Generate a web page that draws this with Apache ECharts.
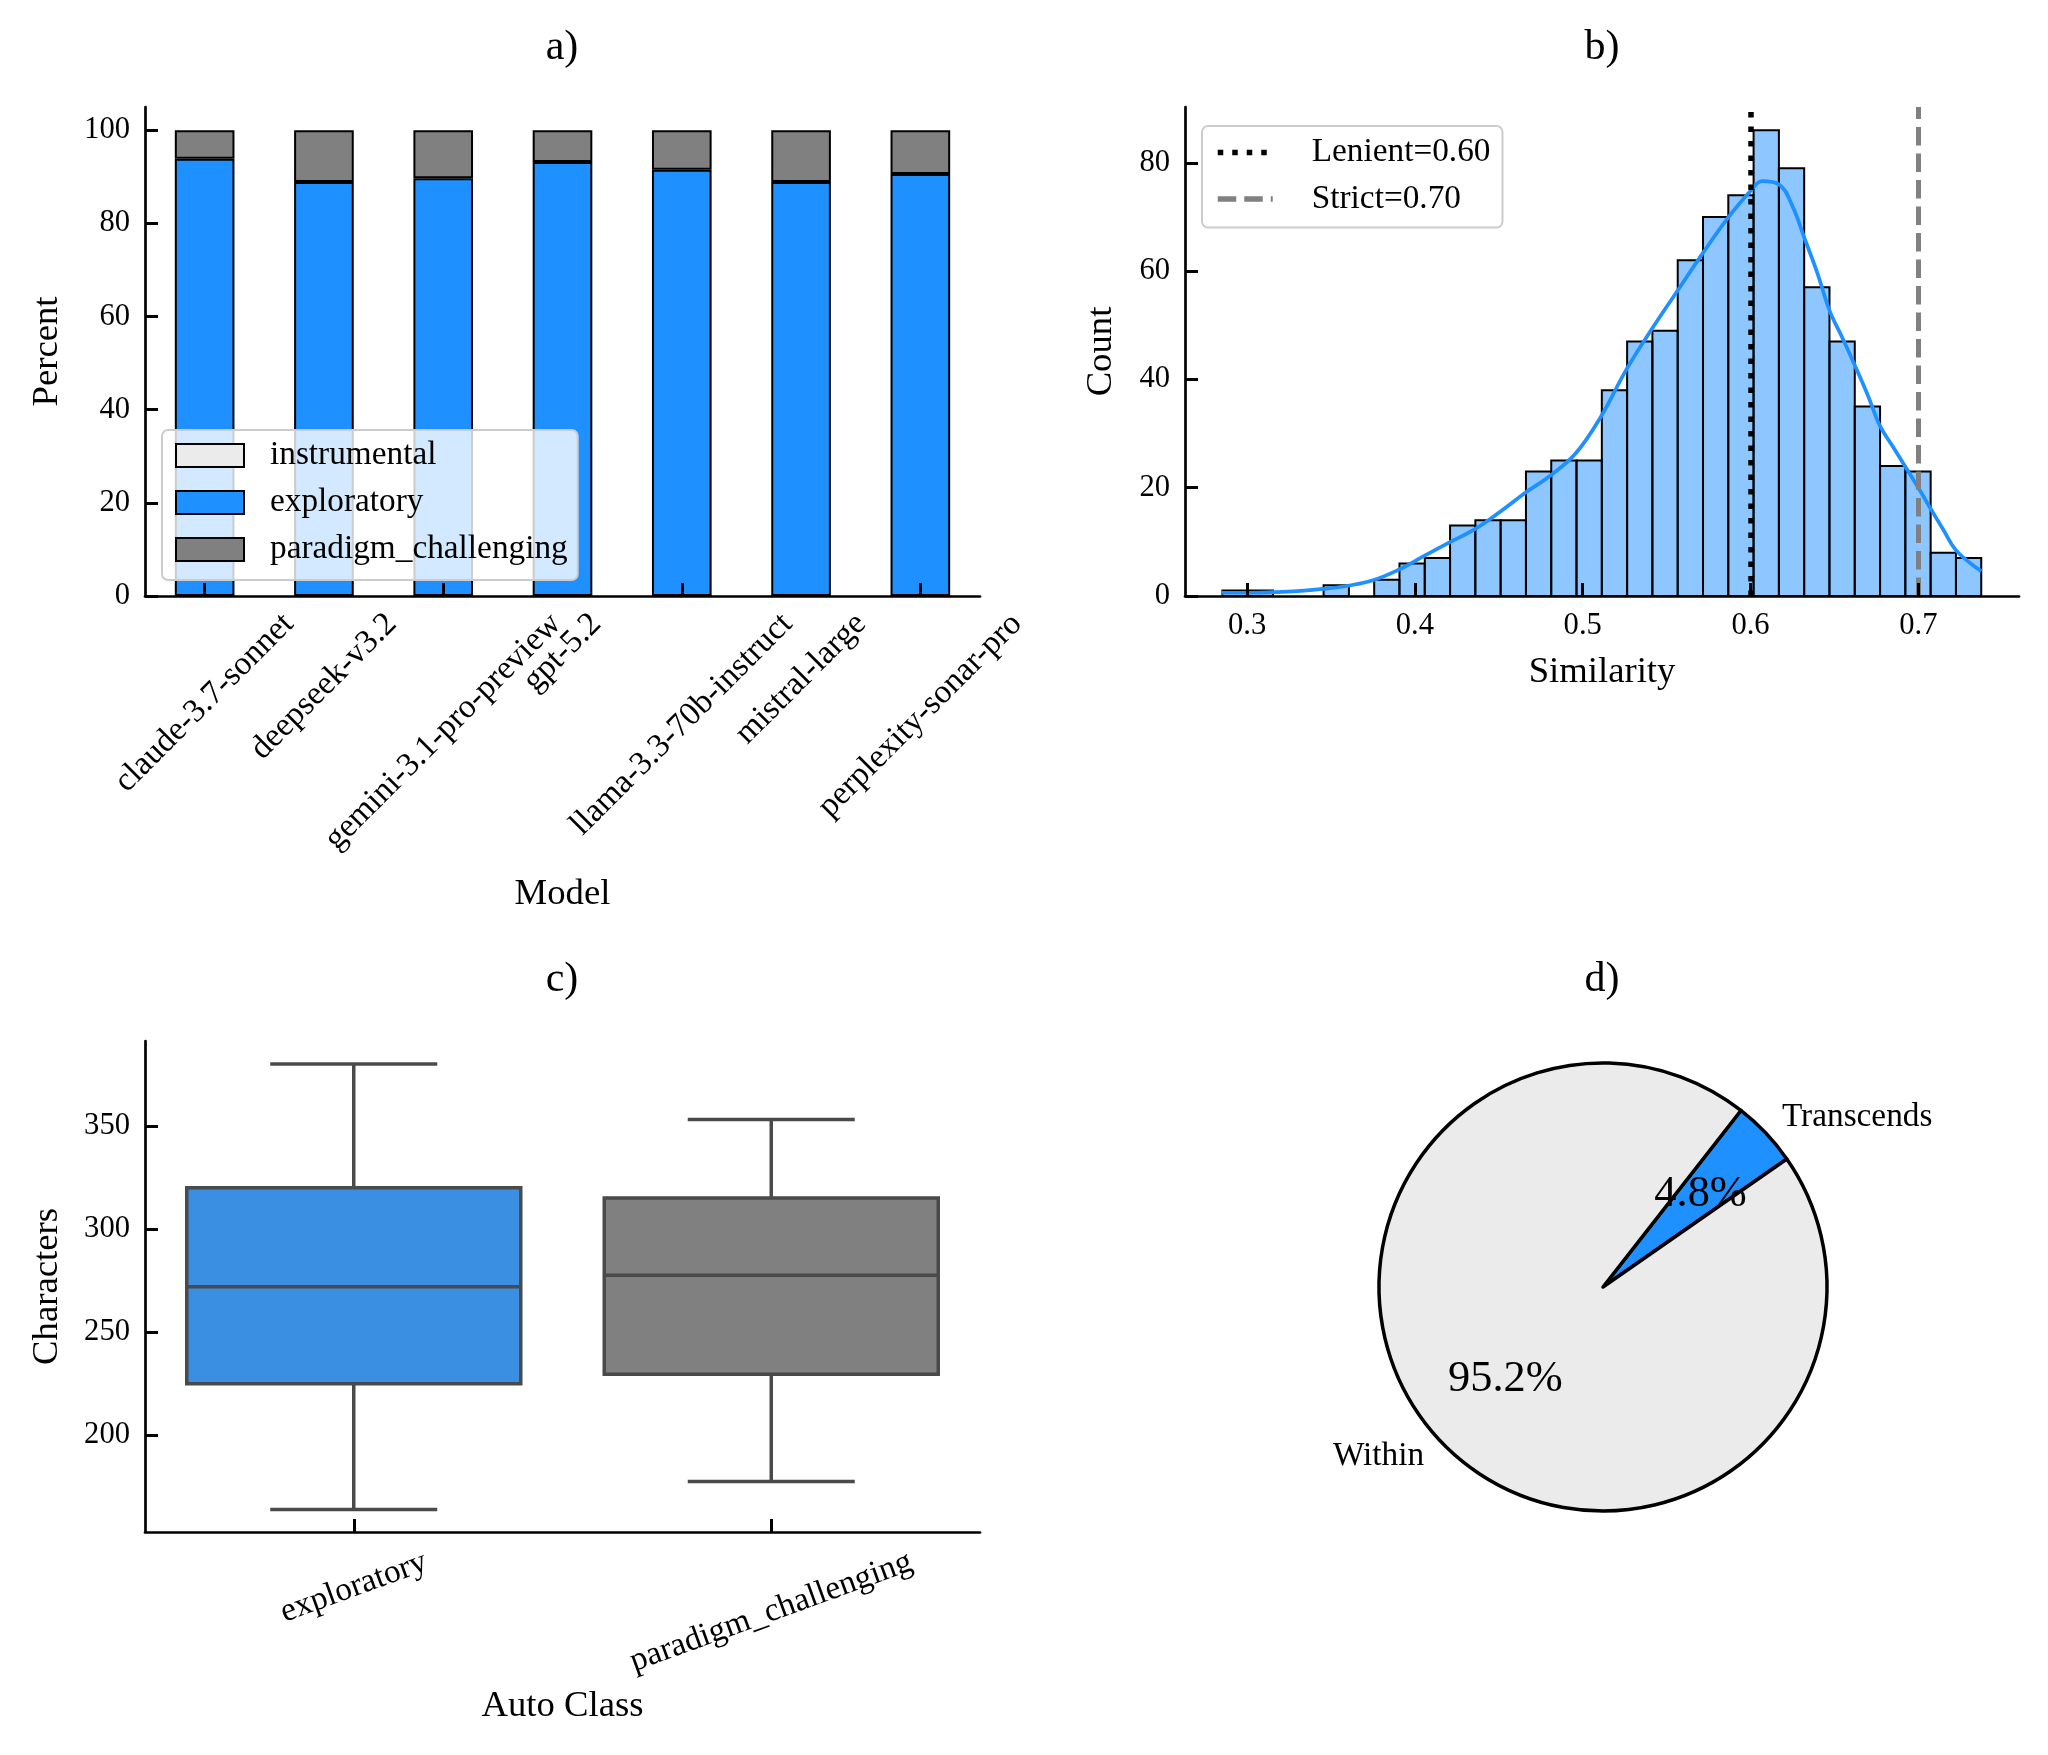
<!DOCTYPE html>
<html>
<head>
<meta charset="utf-8">
<script src="https://cdn.jsdelivr.net/npm/echarts@6/dist/echarts.min.js"></script>
<style>
html,body{margin:0;padding:0;background:#fff;}
#chart{width:2048px;height:1755px;}
</style>
</head>
<body>
<div id="chart"></div>
<script>
// ---------------- DATA ----------------
// a) composition by model (percent)
const models = ['claude-3.7-sonnet','deepseek-v3.2','gemini-3.1-pro-preview','gpt-5.2','llama-3.3-70b-instruct','mistral-large','perplexity-sonar-pro'];
const instrumentalPct = [0, 0, 0, 0, 0, 0, 0];
const exploratoryPct = [93.9, 88.9, 89.7, 93.2, 91.5, 88.9, 90.6];
const paradigmPct = [6.1, 11.1, 10.3, 6.8, 8.5, 11.1, 9.4];
const percentTicks = [0, 20, 40, 60, 80, 100];

// b) similarity histogram (30 bins) + KDE
const histMin = 0.2853;
const histMax = 0.7375;
const histCounts = [1,1,0,0,2,0,3,6,7,13,14,14,23,25,25,38,47,49,62,70,74,86,79,57,47,35,24,23,8,7];
const kdeX = [0.285,0.300,0.315,0.330,0.345,0.360,0.375,0.390,0.405,0.420,0.436,0.451,0.466,0.481,0.496,0.511,0.526,0.541,0.557,0.572,0.587,0.600,0.607,0.617,0.625,0.632,0.640,0.647,0.655,0.662,0.670,0.677,0.685,0.692,0.700,0.707,0.715,0.722,0.730,0.7375];
const kdeY = [0.6,0.6,0.7,0.9,1.3,1.9,2.9,4.8,7.3,9.8,12.4,15.6,19.1,22.3,26.4,33.2,41.8,49.2,56.6,63.5,70.0,74.8,76.6,76.0,72.0,66.2,59.5,52.8,47.5,42.7,37.0,31.5,27.5,24.0,20.0,16.3,12.2,8.6,6.3,4.6];
const countTicks = [0, 20, 40, 60, 80];
const similarityTicks = [0.3, 0.4, 0.5, 0.6, 0.7];
const thresholdNames = ['Lenient=0.60', 'Strict=0.70'];
const thresholdValues = [0.60, 0.70];

// c) characters by auto class: [low whisker, Q1, median, Q3, high whisker]
const autoClasses = ['exploratory', 'paradigm_challenging'];
const boxStats = [
  [164, 225, 272, 320, 380],
  [177.6, 229.6, 277.6, 315, 353]
];
const characterTicks = [200, 250, 300, 350];

// d) pie
const pieNames = ['Transcends', 'Within'];
const pieValues = [40, 800];

// ---------------- STYLE ----------------
const FONT = "'Liberation Serif', 'Times New Roman', serif";
const TICK_FS = 30.6, ROT_FS = 33.3, NAME_FS = 36.7, LEG_FS = 33.3, TITLE_FS = 42, PCT_FS = 44.4;
const BLUE = '#1E90FF', GRAY = '#808080', LIGHT = '#EBEBEB';
const BOX_COLORS = ['#3A8FE3', '#808080'];
const BOX_LINE = '#4a4a4a';

const measureCtx = document.createElement('canvas').getContext('2d');
function textWidth(t, fs) { measureCtx.font = fs + "px 'Liberation Serif'"; return measureCtx.measureText(t).width; }

// rotated category labels, centred under their tick like matplotlib (ha=center, top aligned)
function rotatedLabelSeries(name, axisIdx, labels, deg, pad) {
  const th = deg * Math.PI / 180;
  return {
    name: name, type: 'custom', xAxisIndex: axisIdx, yAxisIndex: axisIdx, clip: false, silent: true, z: 10,
    data: labels.map(l => [l]), encode: { x: 0 },
    renderItem: function (params, api) {
      const text = labels[params.dataIndex];
      const p = api.coord([api.value(0), 0]);
      const w = textWidth(text, ROT_FS), h = ROT_FS * 1.1;
      const d = (w * Math.sin(th) + h * Math.cos(th)) / 2;
      const axisY = params.coordSys.y + params.coordSys.height;
      return { type: 'text', x: p[0], y: axisY + pad + d, rotation: th,
        style: { text: text, fontSize: ROT_FS, fontFamily: FONT, fill: '#000', align: 'center', verticalAlign: 'middle',
          textAlign: 'center', textVerticalAlign: 'middle' } };
    }
  };
}

const axisLine = { show: true, lineStyle: { color: '#000', width: 2.7 } };
const tickStyle = { color: '#000', width: 3 };
const nameStyle = { fontSize: NAME_FS, fontFamily: FONT, color: '#000', align: 'center', verticalAlign: 'middle' };
const labelBase = { fontSize: TICK_FS, fontFamily: FONT, color: '#000' };

const binW = (histMax - histMin) / histCounts.length;
const histData = histCounts.map((c, i) => [histMin + i * binW, histMin + (i + 1) * binW, c]);
const kdeData = kdeX.map((x, i) => [x, kdeY[i]]);

const option = {
  animation: false,
  backgroundColor: '#fff',
  textStyle: { fontFamily: FONT },
  graphic: [
    { type: 'text', x: 562, y: 48, style: { text: 'a)', fontSize: TITLE_FS, fontFamily: FONT, fill: '#000', align: 'center', verticalAlign: 'middle' } },
    { type: 'text', x: 1602, y: 48, style: { text: 'b)', fontSize: TITLE_FS, fontFamily: FONT, fill: '#000', align: 'center', verticalAlign: 'middle' } },
    { type: 'text', x: 562, y: 980, style: { text: 'c)', fontSize: TITLE_FS, fontFamily: FONT, fill: '#000', align: 'center', verticalAlign: 'middle' } },
    { type: 'text', x: 1602, y: 980, style: { text: 'd)', fontSize: TITLE_FS, fontFamily: FONT, fill: '#000', align: 'center', verticalAlign: 'middle' } }
  ],
  grid: [
    { left: 145, top: 107, width: 835, height: 489, containLabel: false, outerBoundsMode: 'none' },
    { left: 1185, top: 107, width: 834, height: 489, containLabel: false, outerBoundsMode: 'none' },
    { left: 145, top: 1041, width: 835, height: 491, containLabel: false, outerBoundsMode: 'none' }
  ],
  legend: [
    {
      data: ['instrumental', 'exploratory', 'paradigm_challenging'],
      orient: 'vertical', left: 162, top: 430,
      itemWidth: 68, itemHeight: 23, itemGap: 14, icon: 'rect',
      itemStyle: { borderColor: '#000', borderWidth: 2 },
      textStyle: { fontSize: LEG_FS, fontFamily: FONT, color: '#000', padding: [0, 0, 0, 21] },
      backgroundColor: 'rgba(255,255,255,0.8)', borderColor: '#cccccc', borderWidth: 2, borderRadius: 6,
      padding: [9, 10, 14, 13], selectedMode: false, z: 8
    },
    {
      data: thresholdNames,
      orient: 'vertical', left: 1202, top: 126,
      itemWidth: 55, itemHeight: 14, itemGap: 13.6,
      itemStyle: { color: 'rgba(0,0,0,0)', borderWidth: 0, opacity: 0 },
      lineStyle: { width: 5.5 },
      textStyle: { fontSize: LEG_FS, fontFamily: FONT, color: '#000', padding: [0, 0, 0, 34] },
      backgroundColor: 'rgba(255,255,255,0.8)', borderColor: '#cccccc', borderWidth: 2, borderRadius: 6,
      padding: [10, 12, 12, 13], selectedMode: false, z: 8
    }
  ],
  xAxis: [
    {
      gridIndex: 0, type: 'category', z: 10, data: models,
      axisLine: axisLine,
      axisTick: { show: true, inside: true, length: 13, alignWithLabel: true, lineStyle: tickStyle },
      axisLabel: { show: false },
      splitLine: { show: false },
      name: 'Model', nameLocation: 'middle', nameGap: 298, nameMoveOverlap: false, nameTextStyle: nameStyle
    },
    {
      gridIndex: 1, type: 'value', min: 0.263, max: 0.760, z: 10,
      axisLine: axisLine,
      axisTick: { show: true, inside: true, length: 13, lineStyle: tickStyle, customValues: similarityTicks },
      axisLabel: Object.assign({ margin: 14, customValues: similarityTicks }, labelBase),
      splitLine: { show: false },
      name: 'Similarity', nameLocation: 'middle', nameGap: 76, nameMoveOverlap: false, nameTextStyle: nameStyle
    },
    {
      gridIndex: 2, type: 'category', z: 10, data: autoClasses,
      axisLine: axisLine,
      axisTick: { show: true, inside: true, length: 13, alignWithLabel: true, lineStyle: tickStyle },
      axisLabel: { show: false },
      splitLine: { show: false },
      name: 'Auto Class', nameLocation: 'middle', nameGap: 174, nameMoveOverlap: false, nameTextStyle: nameStyle
    }
  ],
  yAxis: [
    {
      gridIndex: 0, type: 'value', min: 0, max: 105, z: 10,
      axisLine: axisLine,
      axisTick: { show: true, inside: true, length: 13, lineStyle: tickStyle, customValues: percentTicks },
      axisLabel: Object.assign({ margin: 15, customValues: percentTicks }, labelBase),
      splitLine: { show: false },
      name: 'Percent', nameLocation: 'middle', nameRotate: 90, nameGap: 98, nameMoveOverlap: false, nameTextStyle: nameStyle
    },
    {
      gridIndex: 1, type: 'value', min: 0, max: 90.3, z: 10,
      axisLine: axisLine,
      axisTick: { show: true, inside: true, length: 13, lineStyle: tickStyle, customValues: countTicks },
      axisLabel: Object.assign({ margin: 15, customValues: countTicks }, labelBase),
      splitLine: { show: false },
      name: 'Count', nameLocation: 'middle', nameRotate: 90, nameGap: 84, nameMoveOverlap: false, nameTextStyle: nameStyle
    },
    {
      gridIndex: 2, type: 'value', min: 153.1, max: 391.1, z: 10,
      axisLine: axisLine,
      axisTick: { show: true, inside: true, length: 13, lineStyle: tickStyle, customValues: characterTicks },
      axisLabel: Object.assign({ margin: 15, customValues: characterTicks }, labelBase),
      splitLine: { show: false },
      name: 'Characters', nameLocation: 'middle', nameRotate: 90, nameGap: 98, nameMoveOverlap: false, nameTextStyle: nameStyle
    }
  ],
  series: [
    // a) stacked bars
    { name: 'instrumental', type: 'bar', xAxisIndex: 0, yAxisIndex: 0, stack: 'a', barWidth: '50%', data: instrumentalPct,
      itemStyle: { color: LIGHT, borderColor: '#000', borderWidth: 2 }, silent: true },
    { name: 'exploratory', type: 'bar', xAxisIndex: 0, yAxisIndex: 0, stack: 'a', barWidth: '50%', data: exploratoryPct,
      itemStyle: { color: BLUE, borderColor: '#000', borderWidth: 2 }, silent: true },
    { name: 'paradigm_challenging', type: 'bar', xAxisIndex: 0, yAxisIndex: 0, stack: 'a', barWidth: '50%', data: paradigmPct,
      itemStyle: { color: GRAY, borderColor: '#000', borderWidth: 2 }, silent: true },
    rotatedLabelSeries('modelLabels', 0, models, 45, 10),

    // b) histogram
    { name: 'hist', type: 'custom', xAxisIndex: 1, yAxisIndex: 1, data: histData, encode: { x: [0, 1], y: 2 }, silent: true, z: 2,
      renderItem: function (params, api) {
        const c = api.value(2);
        if (!c) return null;
        const p0 = api.coord([api.value(0), c]);
        const p1 = api.coord([api.value(1), 0]);
        return { type: 'rect', shape: { x: p0[0], y: p0[1], width: p1[0] - p0[0], height: p1[1] - p0[1] },
          style: { fill: 'rgba(30,144,255,0.5)', stroke: '#000', lineWidth: 2 } };
      } },
    { name: 'kde', type: 'line', xAxisIndex: 1, yAxisIndex: 1, data: kdeData, smooth: 0.4, symbol: 'none', silent: true, z: 4,
      lineStyle: { color: BLUE, width: 3.7 } },
    { name: thresholdNames[0], type: 'line', xAxisIndex: 1, yAxisIndex: 1, data: [], symbol: 'none', z: 5,
      itemStyle: { color: '#000' }, lineStyle: { color: '#000', width: 5.5, type: [5.5, 9] },
      markLine: { silent: true, symbol: ['none', 'none'], label: { show: false }, animation: false,
        lineStyle: { color: '#000', width: 5.5, type: [5.5, 9] }, data: [{ xAxis: thresholdValues[0] }] } },
    { name: thresholdNames[1], type: 'line', xAxisIndex: 1, yAxisIndex: 1, data: [], symbol: 'none', z: 5,
      itemStyle: { color: GRAY }, lineStyle: { color: GRAY, width: 5, type: [18.5, 8] },
      markLine: { silent: true, symbol: ['none', 'none'], label: { show: false }, animation: false,
        lineStyle: { color: GRAY, width: 5, type: [18.5, 8] }, data: [{ xAxis: thresholdValues[1] }] } },

    // c) box plots
    { name: 'box', type: 'custom', xAxisIndex: 2, yAxisIndex: 2, silent: true, z: 2,
      data: boxStats.map((s, i) => [i].concat(s)), encode: { x: 0, y: [1, 2, 3, 4, 5] },
      renderItem: function (params, api) {
        const idx = api.value(0);
        const band = api.size([1, 0])[0];
        const bw = band * 0.8, cw = band * 0.4;
        const pLow = api.coord([idx, api.value(1)]);
        const pQ1 = api.coord([idx, api.value(2)]);
        const pMed = api.coord([idx, api.value(3)]);
        const pQ3 = api.coord([idx, api.value(4)]);
        const pHigh = api.coord([idx, api.value(5)]);
        const cx = pMed[0];
        const ls = { stroke: BOX_LINE, lineWidth: 3.5 };
        return { type: 'group', children: [
          { type: 'line', shape: { x1: cx, y1: pQ1[1], x2: cx, y2: pLow[1] }, style: ls },
          { type: 'line', shape: { x1: cx, y1: pQ3[1], x2: cx, y2: pHigh[1] }, style: ls },
          { type: 'line', shape: { x1: cx - cw / 2, y1: pLow[1], x2: cx + cw / 2, y2: pLow[1] }, style: ls },
          { type: 'line', shape: { x1: cx - cw / 2, y1: pHigh[1], x2: cx + cw / 2, y2: pHigh[1] }, style: ls },
          { type: 'rect', shape: { x: cx - bw / 2, y: pQ3[1], width: bw, height: pQ1[1] - pQ3[1] },
            style: { fill: BOX_COLORS[params.dataIndex], stroke: BOX_LINE, lineWidth: 3.5 } },
          { type: 'line', shape: { x1: cx - bw / 2, y1: pMed[1], x2: cx + bw / 2, y2: pMed[1] }, style: ls }
        ] };
      } },
    rotatedLabelSeries('classLabels', 2, autoClasses, 20, 12),

    // d) pie
    { name: 'pie', type: 'pie', center: [1603, 1287], radius: 224, startAngle: 52, clockwise: true,
      avoidLabelOverlap: false, silent: true, z: 2,
      data: pieNames.map((n, i) => ({ name: n, value: pieValues[i], itemStyle: { color: i === 0 ? BLUE : LIGHT } })),
      itemStyle: { borderColor: '#000', borderWidth: 3.5 },
      label: { show: true, position: 'outside', formatter: '{b}', fontSize: LEG_FS, fontFamily: FONT, color: '#000', distanceToLabelLine: 0 },
      labelLine: { show: false, length: 22.4, length2: 0 },
      emphasis: { disabled: true } },
    { name: 'piePct', type: 'pie', center: [1603, 1287], radius: [38.8, 224], startAngle: 52, clockwise: true,
      avoidLabelOverlap: false, silent: true, z: 3, percentPrecision: 1,
      data: pieNames.map((n, i) => ({ name: n, value: pieValues[i] })),
      itemStyle: { color: 'rgba(0,0,0,0)', borderWidth: 0 },
      label: { show: true, position: 'inside', formatter: '{d}%', fontSize: PCT_FS, fontFamily: FONT, color: '#000' },
      labelLine: { show: false },
      emphasis: { disabled: true } }
  ]
};

const chart = echarts.init(document.getElementById('chart'), null, { renderer: 'canvas', width: 2048, height: 1755 });
chart.setOption(option);
</script>
</body>
</html>
